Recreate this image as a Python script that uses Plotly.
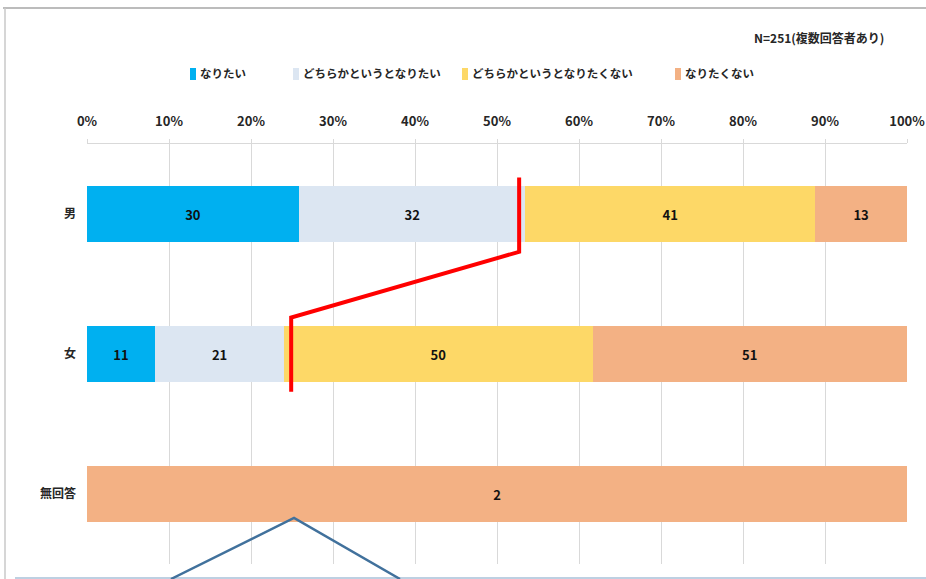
import plotly.graph_objects as go

categories = ["男", "女", "無回答"]
series_names = ["なりたい", "どちらかというとなりたい", "どちらかというとなりたくない", "なりたくない"]
v_naritai = [30, 11, 0]
v_docchika_naritai = [32, 21, 0]
v_docchika_naritakunai = [41, 50, 0]
v_naritakunai = [13, 51, 2]
tick_vals = [0, 10, 20, 30, 40, 50, 60, 70, 80, 90, 100]
tick_text = ["0%", "10%", "20%", "30%", "40%", "50%", "60%", "70%", "80%", "90%", "100%"]
note_text = "N=251(複数回答者あり)"

colors = ["#00B0F0", "#DCE6F2", "#FDD867", "#F3B184"]
series_vals = [v_naritai, v_docchika_naritai, v_docchika_naritakunai, v_naritakunai]

W, H = 926, 579
L, R, T, B = 87, 19, 144, 15
PW, PH = W - L - R, H - T - B


def px(x):
    return (x - L) / PW


def py(y):
    return (H - B - y) / PH


FONT = "Noto Sans CJK JP"
TXT = "#262626"

fig = go.Figure()
for name, vals, col in zip(series_names, series_vals, colors):
    fig.add_trace(go.Bar(
        y=categories, x=vals, name=name, orientation="h",
        marker=dict(color=col, line=dict(width=0)),
        text=[str(v) if v else "" for v in vals],
        texttemplate="%{text}",
        textposition="inside", insidetextanchor="middle",
        textangle=0, constraintext="none",
        textfont=dict(family=FONT, size=13, color="#111111", weight=700),
        hoverinfo="skip", showlegend=False,
    ))

shapes = []
# outer frame (top and left edges)
shapes.append(dict(type="line", xref="paper", yref="paper", x0=px(3), x1=px(926), y0=py(8), y1=py(8),
                   line=dict(color="#A6A6A6", width=1.5)))
shapes.append(dict(type="line", xref="paper", yref="paper", x0=px(5), x1=px(5), y0=py(8), y1=py(579),
                   line=dict(color="#C8C8C8", width=1.5)))
# red annotation line
shapes.append(dict(type="path", xref="x", yref="y",
                   path="M 52.7,-0.26 L 52.7,0.27 L 24.9,0.74 L 24.9,1.27",
                   line=dict(color="#FF0000", width=4)))
# callout
shapes.append(dict(type="line", xref="paper", yref="paper", x0=px(15), x1=px(926), y0=py(578), y1=py(578),
                   line=dict(color="#A8C0D8", width=1.5)))
shapes.append(dict(type="path", xref="paper", yref="paper",
                   path=f"M {px(171)},{py(579)} L {px(294)},{py(518)} L {px(400)},{py(579)}",
                   line=dict(color="#41719C", width=2.5)))

annotations = [dict(xref="paper", yref="paper", x=px(886), y=py(37), xanchor="right", yanchor="middle",
                    text=note_text, showarrow=False,
                    font=dict(family=FONT, size=12, color=TXT, weight=700))]

# manual legend
leg_x = [193, 296, 465, 678]
for name, col, lx in zip(series_names, colors, leg_x):
    shapes.append(dict(type="rect", xref="paper", yref="paper",
                       x0=px(lx - 3), x1=px(lx + 3), y0=py(80), y1=py(68),
                       fillcolor=col, line=dict(width=0)))
    annotations.append(dict(xref="paper", yref="paper", x=px(lx + 5), y=py(73),
                            xanchor="left", yanchor="middle", text=name, showarrow=False,
                            font=dict(family=FONT, size=11.5, color=TXT, weight=700)))

fig.update_layout(
    width=W, height=H, autosize=False,
    margin=dict(l=L, r=R, t=T, b=B, autoexpand=False),
    barmode="stack", barnorm="percent", bargap=0.6,
    plot_bgcolor="white", paper_bgcolor="white",
    shapes=shapes, annotations=annotations,
    showlegend=False,
    xaxis=dict(
        side="top", range=[0, 100], tickvals=tick_vals, ticktext=tick_text,
        showgrid=True, gridcolor="#D9D9D9", gridwidth=1,
        showline=True, linecolor="#D9D9D9", linewidth=1,
        ticks="outside", ticklen=4, tickcolor="#D9D9D9",
        ticklabelstandoff=8, zeroline=False, automargin=False,
        tickfont=dict(family=FONT, size=13, color=TXT, weight=700),
        fixedrange=True,
    ),
    yaxis=dict(
        categoryorder="array", categoryarray=categories,
        range=[2.5, -0.5], showgrid=False, zeroline=False, showline=False,
        ticks="", ticklabelstandoff=10, automargin=False,
        tickfont=dict(family=FONT, size=12, color=TXT, weight=700),
        fixedrange=True,
    ),
)

post = (
    "var s=document.createElement('style');"
    "s.textContent='html,body{margin:0;padding:0;overflow:hidden;}';"
    "document.head.appendChild(s);"
)

fig.write_html(
    "out.html",
    config={"displayModeBar": False},
    post_script=post,
)
